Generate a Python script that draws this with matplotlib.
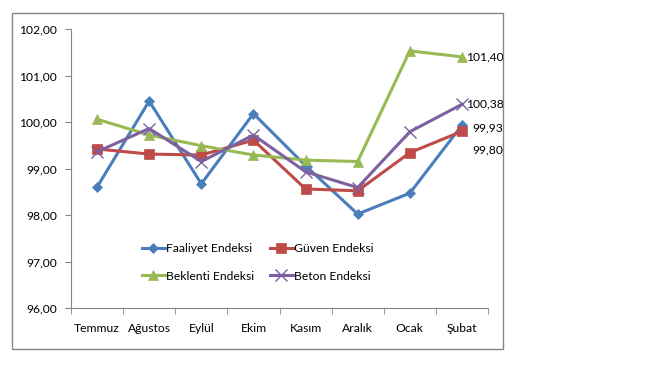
import matplotlib.pyplot as plt
from matplotlib.patches import Rectangle

months = ["Temmuz", "Ağustos", "Eylül", "Ekim", "Kasım", "Aralık", "Ocak", "Şubat"]
faaliyet = [98.60, 100.45, 98.67, 100.18, 99.06, 98.02, 98.47, 99.93]
guven = [99.42, 99.31, 99.29, 99.61, 98.56, 98.52, 99.34, 99.80]
beklenti = [100.06, 99.72, 99.49, 99.29, 99.18, 99.15, 101.53, 101.40]
beton = [99.36, 99.86, 99.15, 99.72, 98.93, 98.59, 99.79, 100.38]
y_ticks = [96, 97, 98, 99, 100, 101, 102]

plt.rcParams['font.family'] = ['Lato', 'DejaVu Sans']
FS = 8.7


def fmt(v):
    return f"{v:.2f}".replace(".", ",")


fig = plt.figure(figsize=(6.48, 3.69), dpi=100)
ax = fig.add_axes([71 / 648, 1 - 308 / 369, 417 / 648, 279 / 369])

x = list(range(len(months)))
series = [
    ("Faaliyet Endeksi", faaliyet, "#4A7EBB", "D", 5),
    ("Güven Endeksi", guven, "#BE4B48", "s", 7),
    ("Beklenti Endeksi", beklenti, "#98B954", "^", 7),
    ("Beton Endeksi", beton, "#7D60A0", "x", 8),
]
handles = {}
for name, vals, col, mk, ms in series:
    h, = ax.plot(x, vals, color=col, lw=2.2, marker=mk, markersize=ms,
                 markeredgewidth=1 if mk == "x" else 0.5, label=name, zorder=3)
    handles[name] = h

# data labels for the last month
ax.text(7.08, beklenti[-1], fmt(beklenti[-1]), va="center", ha="left", fontsize=FS)
ax.text(7.08, beton[-1], fmt(beton[-1]), va="center", ha="left", fontsize=FS)
ax.text(7.2, faaliyet[-1] - 0.05, fmt(faaliyet[-1]), va="center", ha="left", fontsize=FS)
ax.text(7.2, guven[-1] - 0.4, fmt(guven[-1]), va="center", ha="left", fontsize=FS)

ax.set_xlim(-0.5, 7.5)
ax.set_ylim(96, 102)
ax.set_yticks(y_ticks)
ax.set_yticklabels([fmt(v) for v in y_ticks], fontsize=FS)
ax.set_xticks(x)
ax.set_xticklabels(months, fontsize=FS)
ax.set_xticks([i - 0.5 for i in range(len(months) + 1)], minor=True)
ax.tick_params(axis="x", which="major", length=0, pad=11)
ax.tick_params(axis="x", which="minor", length=4, color="#868686")
ax.tick_params(axis="y", length=4, color="#868686", pad=6)

for s in ["top", "right"]:
    ax.spines[s].set_visible(False)
for s in ["left", "bottom"]:
    ax.spines[s].set_color("#868686")

order = ["Faaliyet Endeksi", "Beklenti Endeksi", "Güven Endeksi", "Beton Endeksi"]
ax.legend([handles[n] for n in order], order, ncol=2, loc="center",
          bbox_to_anchor=(0.447, 0.163), frameon=False,
          fontsize=FS, handlelength=1.9, handletextpad=0.1, columnspacing=1.3,
          labelspacing=1.35)

fig.patches.append(Rectangle((12 / 648, 1 - 349 / 369), 491 / 648, 336 / 369,
                             transform=fig.transFigure, fill=False,
                             edgecolor="#868686", lw=1))

plt.savefig("out.png", dpi=100)
